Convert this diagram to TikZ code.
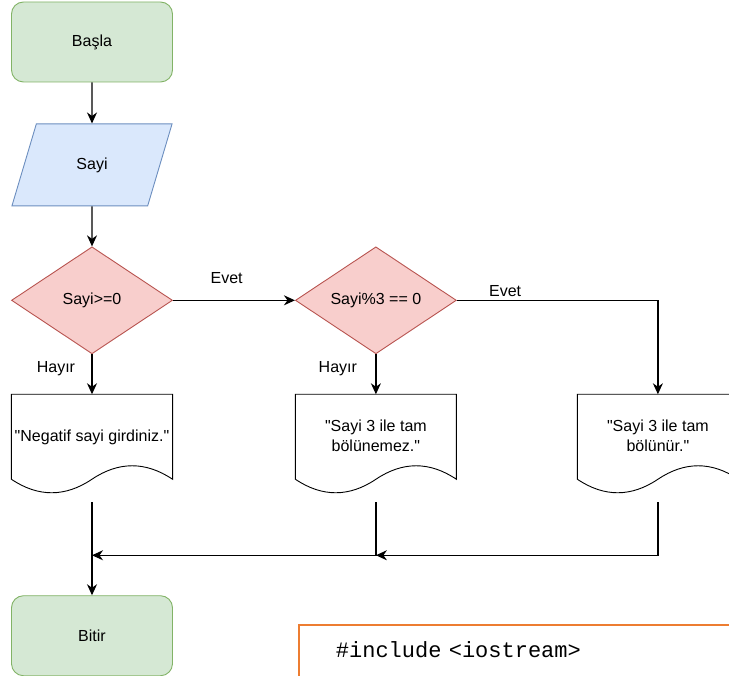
\documentclass[tikz,border=0pt]{standalone}
\usepackage{fontspec}
\setmainfont{Liberation Sans}
\setmonofont{Liberation Mono}
\usetikzlibrary{shapes.geometric, arrows.meta, positioning, calc}
\definecolor{termfill}{HTML}{D5E8D4}
\definecolor{termline}{HTML}{82B366}
\definecolor{iofill}{HTML}{DAE8FC}
\definecolor{ioline}{HTML}{6C8EBF}
\definecolor{condfill}{HTML}{F8CECC}
\definecolor{condline}{HTML}{B85450}
\definecolor{codeline}{HTML}{ED7D31}

% wavy document outline round a docbox node
\newcommand{\docoutline}[1]{%
  \draw[line width=0.9pt] (#1.north west) -- (#1.north east)
    -- ($(#1.north east)+(0pt,-85pt)$)
    .. controls ($(#1.north west)+(134.2pt,-67pt)$) and ($(#1.north west)+(107.3pt,-67pt)$) .. ($(#1.north west)+(80.5pt,-85pt)$)
    .. controls ($(#1.north west)+(53.7pt,-103pt)$) and ($(#1.north west)+(26.8pt,-103pt)$) .. ($(#1.north west)+(0pt,-85pt)$)
    -- cycle;}
\newcommand{\qt}{\textquotedbl}

\begin{document}
\begin{tikzpicture}[
  x=1pt, y=-1pt,
  font=\fontsize{16}{20}\selectfont,
  term/.style={rectangle, rounded corners=12pt, draw=termline, fill=termfill, line width=0.9pt, minimum width=161pt, minimum height=80pt},
  io/.style={trapezium, trapezium left angle=69, trapezium right angle=111, trapezium stretches=true, draw=ioline, fill=iofill, line width=0.9pt, minimum width=161pt, minimum height=82pt},
  cond/.style={diamond, draw=condline, fill=condfill, line width=0.9pt, minimum width=161pt, minimum height=107pt, inner sep=0pt},
  docbox/.style={rectangle, minimum width=161pt, minimum height=108pt, outer sep=0pt, align=center, text depth=26pt},
  codebox/.style={rectangle, draw=codeline, line width=1.8pt, font=\ttfamily\fontsize{22}{26}\selectfont, text width=420pt, inner xsep=37pt, inner ysep=17pt, align=left, text depth=40pt},
  arrow/.style={-{Stealth[length=11pt, width=10pt, inset=3.5pt]}, line width=1.2pt},
  lbl/.style={font=\fontsize{16}{20}\selectfont}
]
  \clip (0,0) rectangle (729,676);

  \node[term] (basla) at (92,42) {Başla};
  \node[io, below=41pt of basla] (sayi) {Sayi};
  \node[cond, below=40pt of sayi] (cond1) {Sayi>=0};
  \node[cond, right=122pt of cond1] (cond2) {Sayi\%3 == 0};

  \node[docbox, below=40pt of cond1] (neg) {\qt Negatif sayi girdiniz.\qt};
  \node[docbox, below=40pt of cond2] (doc2) {\qt Sayi 3 ile tam\\bölünemez.\qt};
  \node[docbox, right=121pt of doc2] (doc3) {\qt Sayi 3 ile tam\\bölünür.\qt};
  \docoutline{neg}
  \docoutline{doc2}
  \docoutline{doc3}

  \node[term, below=93pt of neg] (bitir) {Bitir};
  \node[codebox, anchor=north west] (code) at (298,624) {\#include <iostream>};

  \draw[arrow] (basla) -- (sayi);
  \draw[arrow] (sayi) -- (cond1);
  \draw[arrow] (cond1) -- node[lbl, above=13pt, pos=0.44] {Evet} (cond2);
  \draw[arrow] (cond2) -| node[lbl, above, pos=0.12] {Evet} (doc3);
  \draw[arrow] (cond1) -- node[lbl, left=13pt, pos=0.35] {Hayır} (neg);
  \draw[arrow] (cond2) -- node[lbl, left=15pt, pos=0.35] {Hayır} (doc2);

  \coordinate (j2) at ($(doc2.south)+(0pt,-53pt)$);
  \draw[arrow] (neg.south) -- (bitir);
  \draw[arrow] (doc2.south) |- (neg.south |- j2);
  \draw[arrow] (doc3.south) |- (j2);
\end{tikzpicture}
\end{document}
